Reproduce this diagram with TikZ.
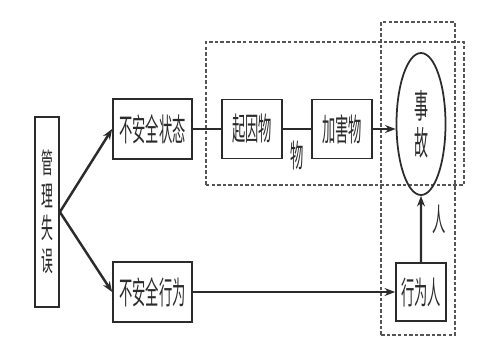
\documentclass[tikz,border=0pt]{standalone}
\usepackage{fontspec}
\usepackage{graphicx}
\usepackage{xcolor}
\usepackage{tikz}
\usetikzlibrary{positioning, arrows.meta, shapes.geometric}

\newfontfamily\cjk{Noto Sans CJK SC}
\newcommand{\narrowtxt}[1]{\scalebox{0.42}[1]{#1}}
\definecolor{ink}{HTML}{2B2B2B}

\tikzset{
  box/.style={draw=ink, line width=1pt, inner sep=0pt, minimum width=1.2cm,
    minimum height=1.18cm, text=ink, font=\cjk\fontsize{18}{20}\selectfont},
  link/.style={draw=ink, line width=1.4pt},
  arr/.style={link, -{Stealth[length=6pt, width=4.5pt]}},
  frame/.style={draw=ink!80, line width=0.8pt, dash pattern=on 2pt off 1.2pt},
  lbl/.style={text=ink, font=\cjk\fontsize{18}{20}\selectfont}
}

\begin{document}
\begin{tikzpicture}[node distance=2cm, on grid]
        \useasboundingbox (0,0) rectangle (10,7);

        % groups
        \draw[frame] (4.12,3.30) rectangle (9.28,6.16);
        \draw[frame] (7.62,0.30) rectangle (9.10,6.56);

        \node[box, minimum width=0.48cm, minimum height=3.8cm, align=center,
              font=\cjk\fontsize{16}{18.5}\selectfont] (glsw) at (0.94,2.76)
              {\narrowtxt{管}\\\narrowtxt{理}\\\narrowtxt{失}\\\narrowtxt{误}};
        \node[box, minimum width=1.58cm, minimum height=1.2cm] (zt) at (3.05,4.42) {\narrowtxt{不安全状态}};
        \node[box, minimum width=1.58cm, minimum height=1.2cm] (xw) [below=3.26cm of zt] {\narrowtxt{不安全行为}};
        \node[box] (qyw) [right=1.99cm of zt] {\narrowtxt{起因物}};
        \node[box] (jhw) [right=1.8cm of qyw] {\narrowtxt{加害物}};
        \node[box, ellipse, minimum width=0.98cm, minimum height=2.84cm, align=center,
              font=\cjk\fontsize{19}{21}\selectfont] (sg) at (8.42,4.52)
              {\narrowtxt{事}\\\narrowtxt{故}};
        \node[box, minimum width=1.0cm, minimum height=1.16cm] (xwr) [right=5.37cm of xw] {\narrowtxt{行为人}};

        \draw[arr] (glsw.east) -- (zt.west);
        \draw[arr] (glsw.east) -- (xw.west);
        \draw[link] (zt.east) -- (qyw.west);
        \draw[link] (qyw.east) -- node[lbl, yshift=-0.53cm] {\narrowtxt{物}} (jhw.west);
        \draw[arr] (jhw.east) -- (jhw.east -| sg.west);
        \draw[arr] (xw.east) -- (xwr.west);
        \draw[arr] (xwr.north) -- node[lbl, xshift=0.36cm, yshift=0.2cm] {\narrowtxt{人}} (sg.south);

    \end{tikzpicture}
\end{document}
